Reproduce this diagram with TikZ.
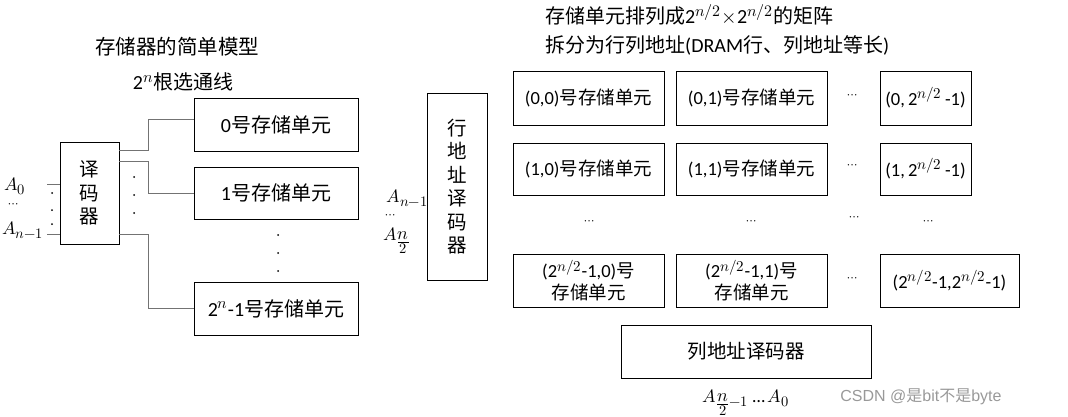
\documentclass[tikz,border=0pt]{standalone}
\usepackage{fontspec}
\usepackage{unicode-math}
\setmainfont{Carlito}
\setmathfont{Latin Modern Math}
\DeclareMathSizes{18}{18}{14.5}{12}
\DeclareMathSizes{18.5}{18.5}{15}{12}
\DeclareMathSizes{20}{20}{16}{13}
\newfontfamily\cjk{Noto Sans CJK SC}
\newfontfamily\arialf{Liberation Sans}
\newcommand{\halfn}{\raisebox{-7pt}{$\genfrac{}{}{1.8pt}{1}{\textstyle n}{\scriptstyle 2}$}}
\begin{document}
\begin{tikzpicture}[x=1pt,y=-1pt,
  cell/.style={draw, line width=0.9pt, inner sep=0pt, align=center, font=\fontsize{18.5}{22}\selectfont},
  bigcell/.style={cell, font=\fontsize{20}{24}\selectfont},
  vcell/.style={draw, line width=0.9pt, inner sep=0pt, align=center, font=\fontsize{19.5}{23.5}\selectfont\cjk},
  wire/.style={draw=black!55, line width=1pt},
  lbl/.style={inner sep=0pt, font=\fontsize{20}{24}\selectfont},
  mlbl/.style={inner sep=0pt, font=\fontsize{18}{22}\selectfont},
  dots/.style={inner sep=0pt, font=\fontsize{13}{16}\selectfont}]
\useasboundingbox (0,0) rectangle (1068,417);

% ---------- left part ----------
\node[lbl, font=\fontsize{20.5}{24}\selectfont] (t1) at (177,47) {\cjk 存储器的简单模型};
\node[lbl] (t2) at (183,82) {2$^{n}$\cjk 根选通线};

\node[vcell, minimum width=59pt, minimum height=102pt] (dec) at (89.5,193) {译\\码\\器};
\node[bigcell, minimum width=164pt, minimum height=53pt] (b0) at (276,124.5) {0\cjk 号存储单元};
\node[bigcell, minimum width=164pt, minimum height=52pt] (b1) at (276,193) {1\cjk 号存储单元};
\node[bigcell, minimum width=164pt, minimum height=53pt] (b2) at (276,308.5) {2$^{n}$-1\cjk 号存储单元};

\draw[wire] ([yshift=-9pt]dec.north east) -- ++(29,0) |- ([yshift=5pt]b0.west);
\draw[wire] ([yshift=-20pt]dec.north east) -- ++(29,0) |- (b1.west);
\draw[wire] ([yshift=10pt]dec.south east) -- ++(29,0) |- (b2.west);

\coordinate (in0) at (47,184);
\coordinate (in1) at (47,234);
\draw[wire] (in0) -- (in0 -| dec.west);
\draw[wire] (in1) -- (in1 -| dec.west);
\node[mlbl, anchor=base west] (a0) at (4,190) {$A_0$};
\node[dots] (ad) at (14,206) {$\cdots$};
\node[mlbl, anchor=base west] (an) at (2,234) {$A_{n-1}$};
\foreach \y in {193,210,224} \fill (52,\y) circle (1pt);
\foreach \y in {177,195,213} \fill (134,\y) circle (1pt);
\foreach \y in {235,253,271} \fill (278,\y) circle (1pt);

% ---------- middle part ----------
\node[vcell, minimum width=60pt, minimum height=187pt] (rd) at (457,186.5) {行\\地\\址\\译\\码\\器};
\node[mlbl, anchor=base east] (ra1) at (428,202) {$A_{n-1}$};
\node[dots] (rad) at (391,217) {$\cdots$};
\node[mlbl, anchor=base west] (ra2) at (383,240) {$A$\halfn};

% ---------- right part ----------
\node[lbl, anchor=west] (t3) at (545,15) {\cjk 存储单元排列成\normalfont 2$^{n/2}$$\times$2$^{n/2}$\cjk 的矩阵};
\node[lbl, anchor=west] (t4) at (545,45) {\cjk 拆分为行列地址\normalfont(DRAM\cjk 行、列地址等长\normalfont)};

\node[cell, minimum width=151pt, minimum height=54pt] (c00) at (588.5,98) {(0,0)\cjk 号存储单元};
\node[cell, minimum width=151pt, minimum height=54pt] (c01) at (751.5,98) {(0,1)\cjk 号存储单元};
\node[cell, minimum width=91pt, minimum height=54pt] (c0n) at (925.5,98) {(0,\,2$^{n/2}$\,-1)};
\node[dots] (d0) at (853,97) {$\cdots$};

\node[cell, minimum width=151pt, minimum height=52pt] (c10) at (588.5,169) {(1,0)\cjk 号存储单元};
\node[cell, minimum width=151pt, minimum height=52pt] (c11) at (751.5,169) {(1,1)\cjk 号存储单元};
\node[cell, minimum width=91pt, minimum height=52pt] (c1n) at (925.5,169) {(1,\,2$^{n/2}$\,-1)};
\node[dots] (d1) at (853,167) {$\cdots$};

\node[dots] (dm0) at (590,223) {$\cdots$};
\node[dots] (dm1) at (752,223) {$\cdots$};
\node[dots] (dm2) at (855,219) {$\cdots$};
\node[dots] (dm3) at (929,223) {$\cdots$};

\node[cell, minimum width=151pt, minimum height=53pt] (cn0) at (588.5,280.5) {(2$^{n/2}$-1,0)\cjk 号\\\cjk 存储单元};
\node[cell, minimum width=151pt, minimum height=53pt] (cn1) at (751.5,280.5) {(2$^{n/2}$-1,1)\cjk 号\\\cjk 存储单元};
\node[cell, minimum width=139pt, minimum height=53pt] (cnn) at (949.5,280.5) {(2$^{n/2}$-1,2$^{n/2}$-1)};
\node[dots] (d3) at (853,280) {$\cdots$};

\node[vcell, minimum width=250pt, minimum height=53pt] (cd) at (746,351.5) {列地址译码器};
\node[mlbl, anchor=base] (cda) at (746,402) {$A$\halfn${}_{-1}$ \ldots\,$A_0$};

\node[inner sep=0pt, text=black!40, font=\fontsize{16}{18}\selectfont\arialf] (wm) at (921,397) {CSDN @\cjk 是\arialf bit\cjk 不是\arialf byte};
\end{tikzpicture}
\end{document}
